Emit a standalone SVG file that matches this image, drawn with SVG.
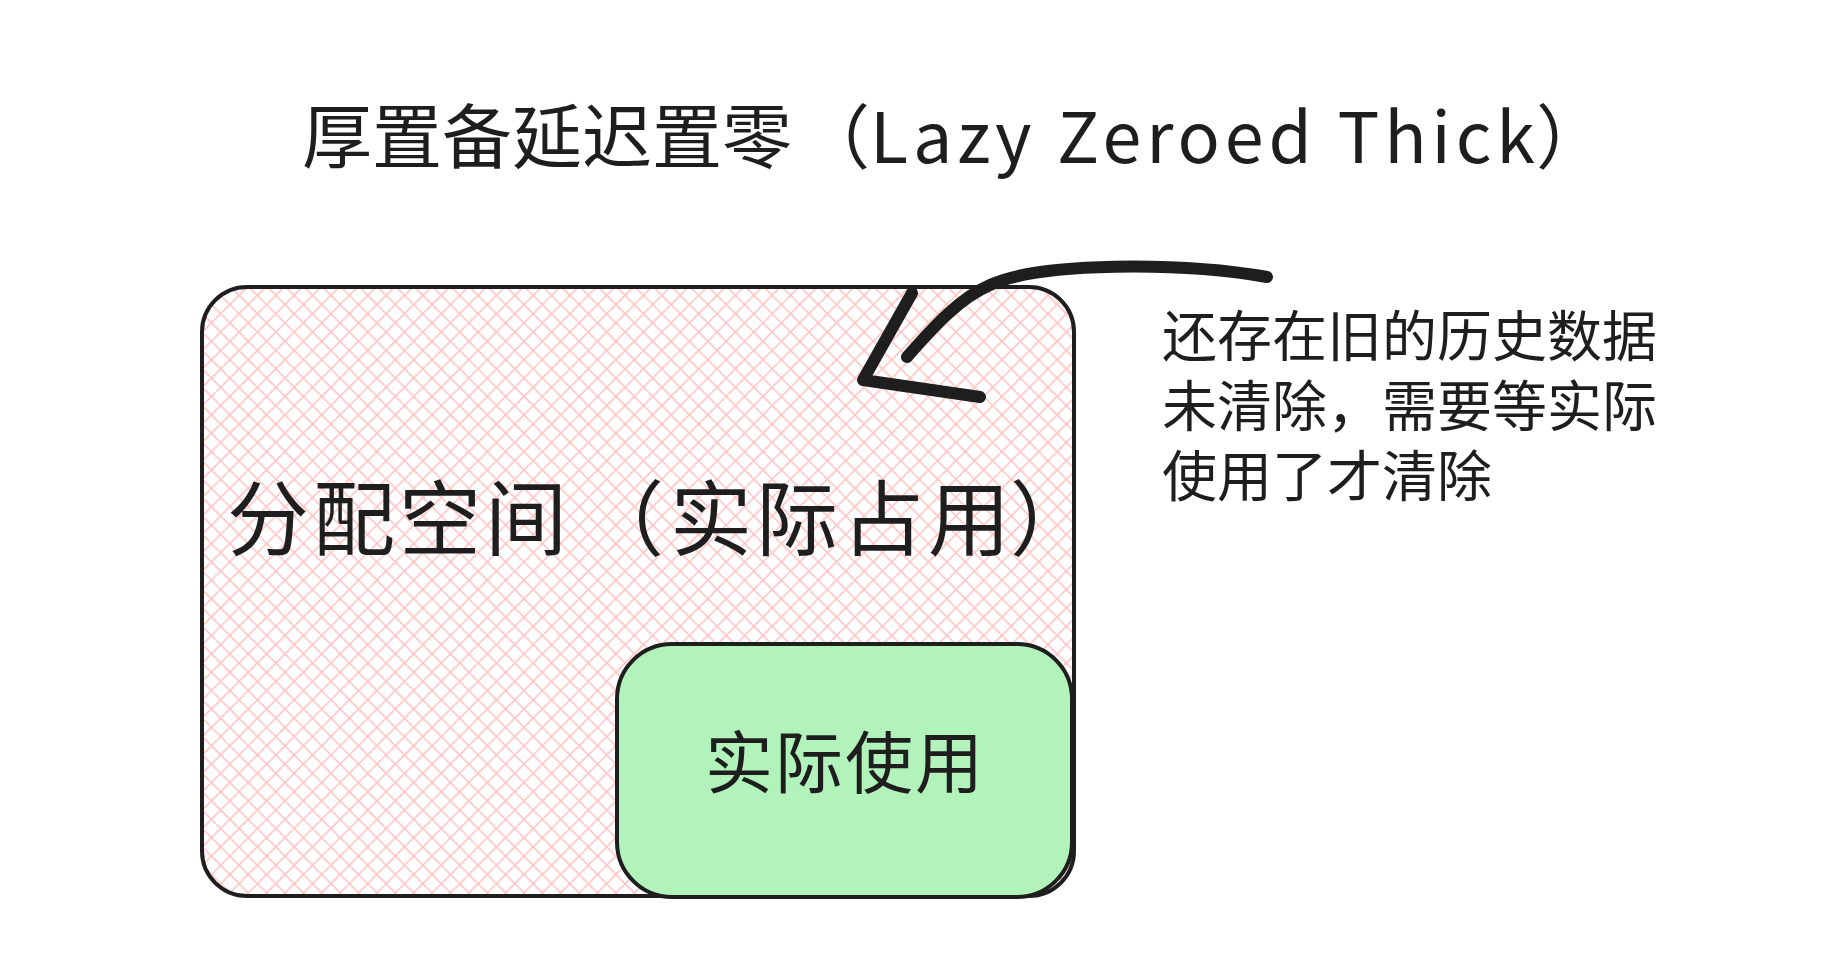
<svg xmlns="http://www.w3.org/2000/svg" width="1830" height="966" viewBox="0 0 1830 966">
<defs>
<pattern id="hatch" patternUnits="userSpaceOnUse" width="13" height="13" patternTransform="rotate(45)">
<line x1="0" y1="-1" x2="0" y2="14" stroke="#ffc4c4" stroke-width="3.2"/>
<line x1="-1" y1="0" x2="14" y2="0" stroke="#ffc4c4" stroke-width="3.2"/>
</pattern>
</defs>
<style>
.t{font-family:"Noto Sans CJK SC","Noto Sans",sans-serif;fill:#1e1e1e;}
.box{stroke:#1e1e1e;stroke-width:4;}
.conn{fill:none;stroke:#1e1e1e;stroke-width:12;stroke-linecap:round;stroke-linejoin:round;}
</style>
<rect width="1830" height="966" fill="#ffffff"/>
<g id="title">
<text class="t" x="302" y="163" font-size="70">厚置备延迟置零<tspan x="800">（</tspan><tspan x="870" textLength="665" lengthAdjust="spacing">Lazy Zeroed Thick</tspan><tspan x="1536">）</tspan></text>
</g>
<g id="allocated">
<rect x="202" y="287" width="872" height="609" rx="45" fill="#ffffff"/>
<rect x="202" y="287" width="872" height="609" rx="45" fill="url(#hatch)" class="box"/>
<text class="t" y="549" font-size="82" x="227 313 399 485 582 670 756 842 928 1010">分配空间（实际占用）</text>
</g>
<g id="used">
<rect x="617" y="644" width="455" height="253" rx="55" fill="#b2f2bb" class="box"/>
<text class="t" x="705" y="788" font-size="68" letter-spacing="2">实际使用</text>
</g>
<g id="note">
<text class="t" font-size="55" x="1162" y="356">还存在旧的历史数据</text>
<text class="t" font-size="55" x="1162" y="426">未清除，需要等实际</text>
<text class="t" font-size="55" x="1162" y="496">使用了才清除</text>
</g>
<g id="connectors">
<path class="conn" d="M1267,277 C1180,262 1040,262 990,285 C960,298 935,325 907,357"/>
<path class="conn" d="M912,293 L863,380 L980,397"/>
</g>
</svg>
